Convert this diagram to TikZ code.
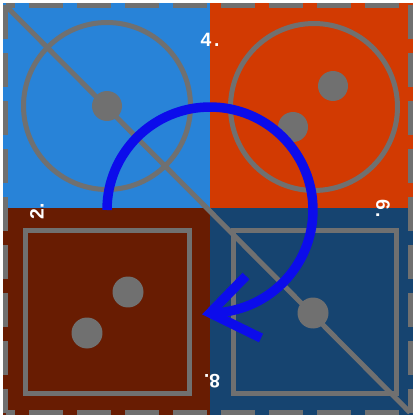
\documentclass[tikz,border=0pt]{standalone}
\usepackage{fontspec}
\setmainfont{Liberation Sans}
\begin{document}
\begin{tikzpicture}[x=0.02cm,y=-0.02cm,
  graystroke/.style={draw=dgray,line width=0.1cm},
  graydot/.style={fill=dgray},
  borderline/.style={draw=dgray,line width=0.1cm,dash pattern=on 0.68cm off 0.28cm},
  arrowline/.style={draw=arrblue,line width=0.19cm},
  lbl/.style={text=white,font=\fontsize{11}{12}\selectfont\bfseries,inner sep=0pt}]
\definecolor{tlblue}{RGB}{40,131,216}
\definecolor{trred}{RGB}{210,58,2}
\definecolor{blbrown}{RGB}{104,28,2}
\definecolor{brblue}{RGB}{22,68,112}
\definecolor{dgray}{RGB}{112,112,112}
\definecolor{arrblue}{RGB}{12,12,235}
\useasboundingbox (0,0) rectangle (413,418);
\fill[white] (0,0) rectangle (413,418);
% quadrants
\fill[tlblue] (3,3) rectangle (210,208);
\fill[trred] (210,3) rectangle (413,208);
\fill[blbrown] (3,208) rectangle (210,415);
\fill[brblue] (210,208) rectangle (413,415);
% top-left: circle with one dot
\coordinate (tlc) at (107,106);
\draw[graystroke] (tlc) circle[radius=1.67cm];
\fill[graydot] (tlc) circle[radius=0.3cm];
% top-right: circle with two dots
\coordinate (trc) at (314,107);
\draw[graystroke] (trc) circle[radius=1.67cm];
\fill[graydot] (333,86) circle[radius=0.3cm];
\fill[graydot] (293,127) circle[radius=0.3cm];
% bottom-left: square with two dots
\draw[graystroke] (25,230) rectangle (189,393);
\fill[graydot] (128,292) circle[radius=0.31cm];
\fill[graydot] (87,333) circle[radius=0.31cm];
% bottom-right: square with one dot
\draw[graystroke] (233,230) rectangle (396,393);
\fill[graydot] (313,313) circle[radius=0.31cm];
% diagonal
\coordinate (c1) at (5.5,5.5);
\coordinate (c2) at (410,412.5);
\coordinate (c3) at (5.5,412.5);
\coordinate (c4) at (410,5.5);
\draw[graystroke] (c1) -- (c2);
% dashed border
\draw[borderline] (c1) -- (c3);
\draw[borderline] (c4) -- (c2);
\draw[borderline,dash phase=0.48cm] (c1) -- (c4);
\draw[borderline,dash phase=0.48cm] (c3) -- (c2);
% blue arrow
\coordinate (as) at (107,210);
\coordinate (ae) at (210,313);
\coordinate (h1) at (246,276);
\coordinate (h2) at (261,338);
\draw[arrowline] (as) arc[start angle=180,end angle=-90,radius=2.06cm];
\draw[arrowline,line join=miter] (h1) -- (ae) -- (h2);
% labels
\node[lbl] (l4) at (210,40) {4\kern1.5pt.};
\node[lbl,rotate=90] (l2) at (37,211) {2.};
\node[lbl,rotate=-90] (l6) at (383,209) {6\kern1.5pt.};
\node[lbl,rotate=180] (l8) at (212,381) {8.};
\end{tikzpicture}
\end{document}
